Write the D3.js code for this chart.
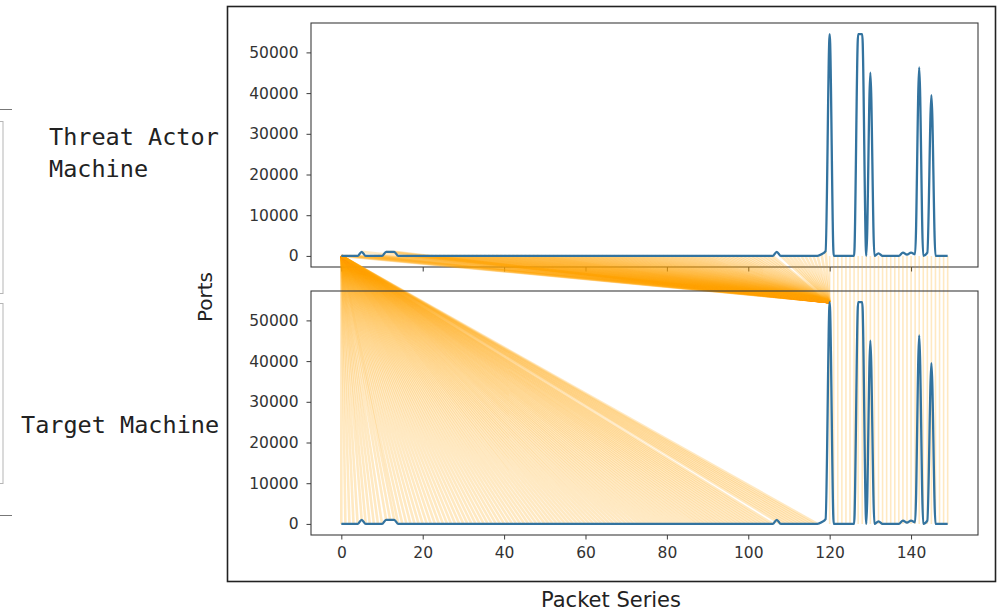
<!DOCTYPE html>
<html><head><meta charset="utf-8">
<script src="https://cdn.jsdelivr.net/npm/d3@7"></script>
<style>body{margin:0;background:#fff;} svg{display:block}</style>
</head><body><svg id="c" width="1006" height="613"></svg>
<script>
// ---------------- data ----------------
// port value for each packet of the series (index = packet number)
const threatPorts = [
  0,0,0,0,0,1000,0,0,0,0,
  0,1000,1000,1000,0,0,0,0,0,0,
  0,0,0,0,0,0,0,0,0,0,
  0,0,0,0,0,0,0,0,0,0,
  0,0,0,0,0,0,0,0,0,0,
  0,0,0,0,0,0,0,0,0,0,
  0,0,0,0,0,0,0,0,0,0,
  0,0,0,0,0,0,0,0,0,0,
  0,0,0,0,0,0,0,0,0,0,
  0,0,0,0,0,0,0,0,0,0,
  0,0,0,0,0,0,0,1000,0,0,
  0,0,0,0,0,0,0,0,400,1200,
  54500,0,0,0,0,0,0,54500,54500,0,
  45000,0,600,0,0,0,0,0,800,300,
  800,400,46300,0,800,39500,0,0,0,0
];
const targetPorts = [
  0,0,0,0,0,1000,0,0,0,0,
  0,1000,1000,1000,0,0,0,0,0,0,
  0,0,0,0,0,0,0,0,0,0,
  0,0,0,0,0,0,0,0,0,0,
  0,0,0,0,0,0,0,0,0,0,
  0,0,0,0,0,0,0,0,0,0,
  0,0,0,0,0,0,0,0,0,0,
  0,0,0,0,0,0,0,0,0,0,
  0,0,0,0,0,0,0,0,0,0,
  0,0,0,0,0,0,0,0,0,0,
  0,0,0,0,0,0,0,1000,0,0,
  0,0,0,0,0,0,0,0,400,1200,
  54500,0,0,0,0,0,0,54500,54500,0,
  45000,0,600,0,0,0,0,0,800,300,
  800,400,46300,0,800,39500,0,0,0,0
];
const xTicks = [0, 20, 40, 60, 80, 100, 120, 140];
const yTicks = [0, 10000, 20000, 30000, 40000, 50000];
const panelLabels = [["Threat Actor", "Machine"], ["Target Machine"]];
const xLabel = "Packet Series";
const yLabel = "Ports";

// connection links (threat packet -> target packet)
const fanASource = 0;                    // early links all leave threat packet 0
const fanATargets = [];                  // ...and land on target packets 0..117
for (let j = 0; j <= 117; j++) if (j !== 107) fanATargets.push(j);
const fanBTarget = 120;                  // links converging on target packet 120
const fanBSources = [];
for (let i = 0; i <= 119; i++) if (i !== 107) fanBSources.push(i);
const directPackets = [];                // packet i -> packet i
for (let i = 120; i <= 149; i++) directPackets.push(i);

// ---------------- layout ----------------
const svg = d3.select("#c");
const L = 311, R = 978;
const top1 = 23, bot1 = 267, top2 = 291, bot2 = 535;
const n = threatPorts.length;
const xpad = (n - 1) * 0.05;
const ymax = d3.max(threatPorts), ypad = ymax * 0.05;

const x = d3.scaleLinear().domain([-xpad, n - 1 + xpad]).range([L, R]);
const yT = d3.scaleLinear().domain([-ypad, ymax + ypad]).range([bot1, top1]);
const yB = d3.scaleLinear().domain([-ypad, ymax + ypad]).range([bot2, top2]);

// page decorations at left edge (cropped diagram boxes)
const deco = svg.append("g");
deco.append("line").attr("x1",0).attr("x2",12).attr("y1",109.5).attr("y2",109.5).attr("stroke","#777").attr("stroke-width",1);
deco.append("line").attr("x1",0).attr("x2",12).attr("y1",515.5).attr("y2",515.5).attr("stroke","#777").attr("stroke-width",1);
deco.append("rect").attr("x",-20).attr("y",121.5).attr("width",23).attr("height",172).attr("fill","none").attr("stroke","#b5b5b5");
deco.append("rect").attr("x",-20).attr("y",303.5).attr("width",23).attr("height",180).attr("fill","none").attr("stroke","#b5b5b5");

// outer figure frame
svg.append("rect").attr("x",227.5).attr("y",6.5).attr("width",768).attr("height",575)
  .attr("fill","none").attr("stroke","#222").attr("stroke-width",1.6);

const font = "'DejaVu Sans', sans-serif";
function drawAxes(y, yTopPx, yBotPx, showXLabels) {
  const g = svg.append("g");
  g.append("rect").attr("x", L).attr("y", yTopPx).attr("width", R - L).attr("height", yBotPx - yTopPx)
    .attr("fill", "none").attr("stroke", "#3c3c3c").attr("stroke-width", 1.1);
  const ya = g.append("g").attr("transform", `translate(${L},0)`)
    .call(d3.axisLeft(y).tickValues(yTicks).tickSize(4.5).tickPadding(8).tickFormat(d3.format("d")));
  ya.select(".domain").remove();
  ya.selectAll("line").attr("stroke", "#3c3c3c");
  ya.selectAll("text").attr("font-family", font).attr("font-size", "15.5px").attr("fill", "#333");
  const xa = g.append("g").attr("transform", `translate(0,${yBotPx})`)
    .call(d3.axisBottom(x).tickValues(xTicks).tickSize(4.5).tickPadding(7).tickFormat(showXLabels ? d3.format("d") : () => ""));
  xa.select(".domain").remove();
  xa.selectAll("line").attr("stroke", "#3c3c3c");
  xa.selectAll("text").attr("font-family", font).attr("font-size", "15.5px").attr("fill", "#333");
}
drawAxes(yT, top1, bot1, false);

// connection links
const fanLinks = [];
fanATargets.forEach(j => fanLinks.push({x1: fanASource, v1: threatPorts[fanASource], x2: j, v2: targetPorts[j]}));
fanBSources.forEach(i => fanLinks.push({x1: i, v1: threatPorts[i], x2: fanBTarget, v2: targetPorts[fanBTarget]}));
const directLinks = directPackets.map(i => ({x1: i, v1: 0, x2: i, v2: 0}));

svg.append("g").selectAll("line").data(fanLinks).join("line")
  .attr("x1", d => x(d.x1)).attr("y1", d => yT(d.v1))
  .attr("x2", d => x(d.x2)).attr("y2", d => yB(d.v2))
  .attr("stroke", "orange").attr("stroke-opacity", 0.24).attr("stroke-width", 2.6);
svg.append("g").selectAll("line").data(directLinks).join("line")
  .attr("x1", d => x(d.x1)).attr("y1", d => yT(d.v1))
  .attr("x2", d => x(d.x2)).attr("y2", d => yB(d.v2))
  .attr("stroke", "orange").attr("stroke-opacity", 0.24).attr("stroke-width", 1.6);

drawAxes(yB, top2, bot2, true);

// port series lines
const lineT = d3.line().x((d, i) => x(i)).y(d => yT(d)).curve(d3.curveMonotoneX);
const lineB = d3.line().x((d, i) => x(i)).y(d => yB(d)).curve(d3.curveMonotoneX);
svg.append("path").datum(threatPorts).attr("d", lineT).attr("fill", "none").attr("stroke", "#33739f").attr("stroke-width", 2.3).attr("stroke-linejoin","round");
svg.append("path").datum(targetPorts).attr("d", lineB).attr("fill", "none").attr("stroke", "#33739f").attr("stroke-width", 2.3).attr("stroke-linejoin","round");

// axis titles
svg.append("text").attr("x", 611).attr("y", 607).attr("text-anchor", "middle")
  .attr("font-family", font).attr("font-size", "21px").attr("fill", "#222").text(xLabel);
svg.append("text").attr("transform", "translate(212,297) rotate(-90)").attr("text-anchor", "middle")
  .attr("font-family", font).attr("font-size", "20px").attr("fill", "#222").text(yLabel);

// panel labels
const mono = "'DejaVu Sans Mono', monospace";
const pl1 = svg.append("text").attr("font-family", mono).attr("font-size", "23.5px").attr("fill", "#222");
pl1.append("tspan").attr("x", 49).attr("y", 145).text(panelLabels[0][0]);
pl1.append("tspan").attr("x", 49).attr("y", 177).text(panelLabels[0][1]);
svg.append("text").attr("font-family", mono).attr("font-size", "23.5px").attr("fill", "#222")
  .attr("x", 21).attr("y", 433).text(panelLabels[1][0]);
</script>
</body></html>
